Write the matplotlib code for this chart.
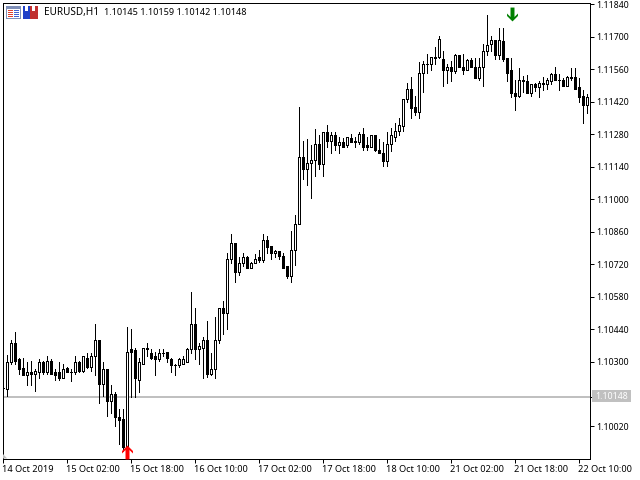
import numpy as np
import matplotlib
matplotlib.use('Agg')
import matplotlib.pyplot as plt
from matplotlib.patches import Polygon, Rectangle

plt.rcParams['font.family'] = ['Noto Sans', 'DejaVu Sans']

# data, prices in 1e-5 units (one row per hourly bar: open, high, low, close)
opens = [110184, 110180, 110300, 110378, 110309, 110274, 110240, 110253, 110248, 110257,
         110296, 110253, 110304, 110253, 110253, 110231, 110274, 110257, 110253, 110300,
         110261, 110317, 110278, 110322, 110395, 110205, 110266, 110128, 110162, 110059,
         110054, 109933, 110352, 110348, 110222, 110291, 110360, 110339, 110322, 110309,
         110335, 110343, 110313, 110287, 110287, 110291, 110296, 110352, 110464, 110352,
         110360, 110395, 110248, 110266, 110395, 110529, 110511, 110744, 110809, 110688,
         110727, 110749, 110705, 110727, 110749, 110736, 110826, 110800, 110766, 110775,
         110757, 110714, 110667, 110779, 110895, 111180, 111128, 111154, 111171, 111236,
         111150, 111288, 111253, 111275, 111232, 111245, 111232, 111262, 111253, 111245,
         111279, 111232, 111227, 111275, 111214, 111197, 111163, 111240, 111270, 111292,
         111314, 111430, 111473, 111396, 111374, 111542, 111585, 111585, 111615, 111611,
         111603, 111559, 111572, 111551, 111620, 111572, 111559, 111598, 111572, 111521,
         111568, 111637, 111667, 111685, 111620, 111680, 111607, 111555, 111456, 111443,
         111512, 111508, 111456, 111495, 111482, 111499, 111495, 111508, 111538, 111516,
         111516, 111486, 111525, 111525, 111482, 111443, 111404]
highs = [110184, 110330, 110395, 110429, 110317, 110317, 110296, 110304, 110270, 110309,
         110304, 110326, 110309, 110270, 110296, 110291, 110278, 110270, 110326, 110304,
         110326, 110335, 110335, 110460, 110395, 110300, 110266, 110197, 110167, 110097,
         110097, 110447, 110442, 110360, 110317, 110360, 110382, 110352, 110343, 110352,
         110352, 110343, 110317, 110291, 110317, 110326, 110360, 110602, 110533, 110382,
         110404, 110473, 110339, 110490, 110529, 110563, 110766, 110852, 110809, 110749,
         110770, 110753, 110731, 110762, 110779, 110848, 110843, 110800, 110783, 110775,
         110766, 110714, 110865, 110930, 111396, 111249, 111258, 111232, 111301, 111275,
         111288, 111322, 111288, 111288, 111270, 111262, 111270, 111283, 111266, 111288,
         111309, 111266, 111275, 111275, 111258, 111245, 111288, 111309, 111327, 111348,
         111434, 111499, 111525, 111447, 111590, 111594, 111628, 111615, 111654, 111702,
         111641, 111585, 111594, 111628, 111620, 111624, 111603, 111607, 111607, 111607,
         111667, 111792, 111702, 111685, 111736, 111736, 111607, 111607, 111516, 111564,
         111529, 111534, 111495, 111503, 111508, 111525, 111521, 111542, 111568, 111538,
         111521, 111529, 111564, 111564, 111521, 111469, 111452]
lows = [110184, 110153, 110291, 110291, 110248, 110240, 110197, 110201, 110171, 110231,
        110248, 110248, 110248, 110222, 110222, 110231, 110253, 110214, 110248, 110257,
        110257, 110274, 110261, 110244, 110123, 110153, 110067, 110080, 110020, 109946,
        109916, 109929, 110149, 110149, 110167, 110291, 110322, 110309, 110240, 110304,
        110322, 110296, 110257, 110240, 110278, 110291, 110296, 110335, 110313, 110291,
        110227, 110235, 110244, 110227, 110382, 110417, 110442, 110723, 110645, 110675,
        110710, 110705, 110705, 110723, 110731, 110731, 110770, 110744, 110749, 110744,
        110705, 110662, 110645, 110718, 110895, 111085, 111063, 111007, 111098, 111128,
        111102, 111227, 111201, 111214, 111197, 111223, 111227, 111245, 111223, 111240,
        111210, 111214, 111223, 111206, 111197, 111141, 111145, 111206, 111249, 111275,
        111292, 111417, 111352, 111365, 111348, 111460, 111542, 111559, 111585, 111607,
        111490, 111499, 111508, 111542, 111568, 111538, 111555, 111568, 111521, 111516,
        111490, 111620, 111641, 111603, 111603, 111594, 111508, 111439, 111383, 111439,
        111460, 111456, 111443, 111465, 111439, 111469, 111473, 111495, 111512, 111469,
        111486, 111486, 111516, 111477, 111417, 111327, 111370]
closes = [110184, 110300, 110378, 110304, 110270, 110240, 110253, 110248, 110261, 110296,
          110253, 110304, 110248, 110244, 110231, 110270, 110257, 110257, 110300, 110261,
          110322, 110278, 110326, 110395, 110205, 110266, 110128, 110162, 110059, 110050,
          109933, 110343, 110343, 110227, 110296, 110360, 110352, 110317, 110309, 110335,
          110339, 110317, 110287, 110287, 110309, 110313, 110352, 110464, 110352, 110365,
          110395, 110248, 110266, 110395, 110529, 110511, 110744, 110809, 110688, 110727,
          110749, 110705, 110727, 110744, 110736, 110826, 110796, 110766, 110775, 110753,
          110705, 110667, 110779, 110895, 111180, 111128, 111154, 111171, 111236, 111150,
          111288, 111253, 111275, 111232, 111245, 111227, 111266, 111245, 111245, 111283,
          111227, 111223, 111275, 111210, 111197, 111163, 111240, 111275, 111292, 111318,
          111430, 111473, 111391, 111378, 111542, 111581, 111581, 111611, 111607, 111689,
          111559, 111572, 111551, 111620, 111568, 111559, 111598, 111568, 111521, 111568,
          111641, 111663, 111685, 111620, 111685, 111603, 111546, 111456, 111443, 111512,
          111508, 111456, 111495, 111482, 111499, 111495, 111512, 111538, 111512, 111516,
          111486, 111525, 111521, 111477, 111439, 111404, 111439]

price_ticks = [1.11840, 1.11700, 1.11560, 1.11420, 1.11280, 1.11140, 1.11000,
               1.10860, 1.10720, 1.10580, 1.10440, 1.10300, 1.10020]
time_ticks = [0, 16, 32, 48, 64, 80, 96, 112, 128, 144]
time_labels = ['14 Oct 2019', '15 Oct 02:00', '15 Oct 18:00', '16 Oct 10:00', '17 Oct 02:00',
               '17 Oct 18:00', '18 Oct 10:00', '21 Oct 02:00', '21 Oct 18:00', '22 Oct 10:00']
symbol = 'EURUSD,H1'
quote = '1.10145 1.10159 1.10142 1.10148'
bid = 1.10148
buy_signal = (31.1, 1.09908)
sell_signal = (127.4, 1.11797)

o = np.array(opens) / 1e5
h = np.array(highs) / 1e5
l = np.array(lows) / 1e5
c = np.array(closes) / 1e5
x = np.arange(len(o))

W, H = 640, 480
LW = 0.72  # one pixel
FS = 6.6

fig = plt.figure(figsize=(6.4, 4.8), dpi=100)
ax = fig.add_axes([2.5 / W, 1 - 458.5 / H, 587 / W, 456 / H])
ax.set_xlim(0, 146.75)
ax.set_ylim(1.09882, 1.11848)

# bid line under the candles
ax.axhline(bid, color='#c0c0c0', lw=1.44, zorder=1, antialiased=False)

# candles
ax.vlines(x, l, h, color='black', lw=LW, zorder=2, antialiased=False)
up = c >= o
ax.bar(x[up], (c - o)[up], width=0.5, bottom=o[up], facecolor='white', edgecolor='black',
       linewidth=LW, zorder=3, antialiased=False)
ax.bar(x[~up], (c - o)[~up], width=0.5, bottom=o[~up], facecolor='black', edgecolor='black',
       linewidth=LW, zorder=3, antialiased=False)

# signal arrows
up_arrow = [(0, 7), (5.5, 1.5), (5.5, -1), (2, 2.5), (2, -7), (-2, -7), (-2, 2.5), (-5.5, -1), (-5.5, 1.5)]
down_arrow = [(a, -b) for a, b in up_arrow]
ax.plot(*buy_signal, marker=up_arrow, ms=10, color='#ff0000', mew=0, zorder=5)
ax.plot(*sell_signal, marker=down_arrow, ms=10, color='#008000', mew=0, zorder=5)

# axes
for s in ax.spines.values():
    s.set_linewidth(LW)
ax.yaxis.tick_right()
ax.set_yticks(price_ticks)
ax.set_yticklabels(['%.5f' % p for p in price_ticks], fontsize=6.3)
ax.set_xticks(time_ticks)
ax.set_xticklabels(time_labels, fontsize=FS, ha='left')
ax.tick_params(axis='y', length=3, width=LW, pad=1.5)
ax.tick_params(axis='x', length=3, width=LW, pad=1.5)


def px(x0, y0, w, h0, **kw):
    # rectangle given in picture pixels, y going down
    fig.add_artist(Rectangle((x0 / W, 1 - (y0 + h0) / H), w / W, h0 / H, transform=fig.transFigure,
                             linewidth=0, antialiased=False, **kw))


# bid label on the price scale
px(592, 390, 39, 12, facecolor='#c0c0c0', zorder=6)
fig.text(595 / W, 1 - 396.5 / H, '%.5f' % bid, color='white', fontsize=6.3, va='center', zorder=7)
fig.add_artist(plt.Line2D([589.5 / W, 592 / W], [1 - 396.5 / H] * 2, color='black', lw=LW))

# corner shift mark
ax.add_patch(Polygon([(0, 0), (0.008, 0), (0, 0.011)], closed=True, transform=ax.transAxes,
                     facecolor='#c0c0c0', linewidth=0, zorder=4))

# header icons and quote
px(6, 6, 15, 13, facecolor='#7f8fb8')
px(7, 9, 13, 9, facecolor='white')
for yy in (10, 12, 14, 16):
    px(8, yy, 5, 1, facecolor='#e04030')
    px(14, yy, 5, 1, facecolor='#4060d0')
px(23, 6, 7, 13, facecolor='#2040c8')
px(30, 6, 8, 13, facecolor='#c03030')
px(25, 6, 3, 5, facecolor='white')
px(32, 6, 3, 5, facecolor='white')
fig.text(44 / W, 1 - 12.5 / H, symbol, fontsize=7.2, va='center', color='black')
fig.text(104 / W, 1 - 12.5 / H, quote, fontsize=6.5, va='center', color='black')

fig.savefig('out.png', dpi=100)
